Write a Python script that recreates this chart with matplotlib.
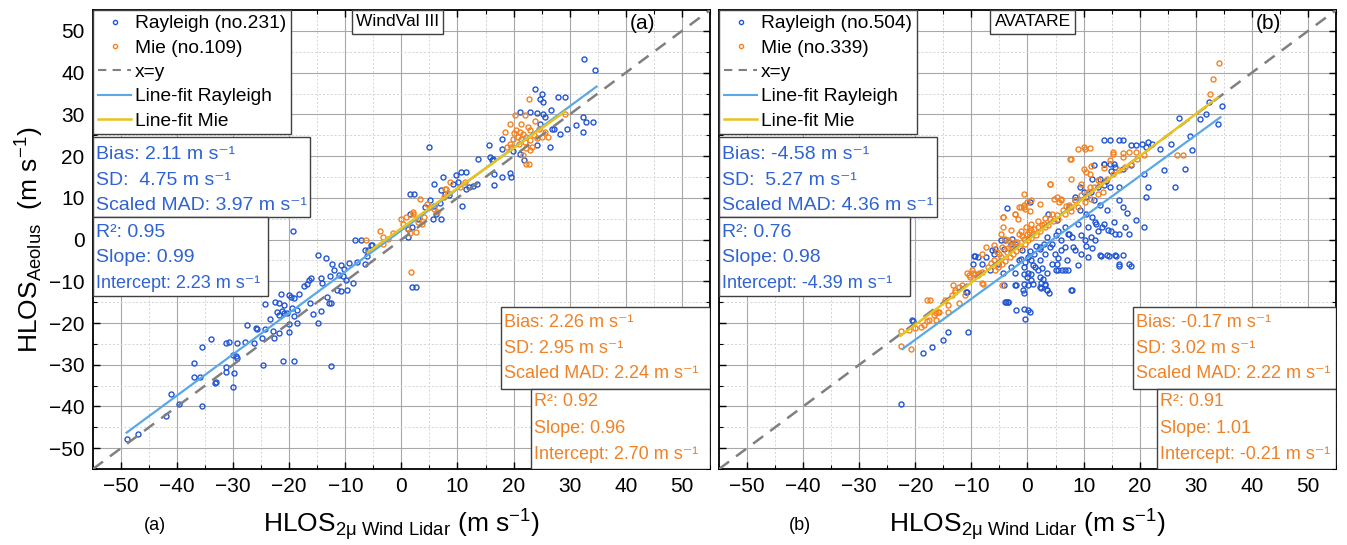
import matplotlib
matplotlib.use('Agg')
import matplotlib.pyplot as plt
import numpy as np
from matplotlib import font_manager
from matplotlib.lines import Line2D
from matplotlib.patches import Rectangle
from matplotlib.ticker import MultipleLocator

plt.rcParams['font.family'] = ['Liberation Sans', 'DejaVu Sans']
plt.rcParams['mathtext.fontset'] = 'custom'
plt.rcParams['mathtext.rm'] = 'Liberation Sans'
plt.rcParams['mathtext.it'] = 'Liberation Sans:italic'
plt.rcParams['mathtext.bf'] = 'Liberation Sans:bold'

# ---- panel (a) WindVal III : Rayleigh points (lidar, aeolus)
ray_a = [(-48.9,-47.8), (-47.0,-46.7), (-41.1,-37.1), (-42.0,-42.2), (-39.6,-39.5), (-35.5,-39.8), (-33.2,-34.3), (-30.0,-35.4),
         (-36.9,-29.7), (-36.9,-32.9), (-36.0,-32.9), (-33.0,-34.1), (-31.2,-30.5), (-31.3,-31.7), (-29.8,-32.0),
         (-30.0,-27.7), (-29.5,-28.0), (-29.3,-28.5), (-24.7,-30.0), (-21.1,-29.2), (-19.2,-29.2), (-12.5,-30.4),
         (-26.2,-24.7), (-27.9,-24.5), (-29.4,-24.9), (-30.7,-24.5), (-31.2,-24.9), (-34.0,-23.9), (-35.5,-25.7),
         (-27.6,-20.5), (-25.9,-21.1), (-25.7,-21.4), (-24.3,-21.5), (-22.9,-21.8), (-22.7,-23.7), (-24.9,-23.7), (-21.9,-22.5), (-20.1,-22.1),
         (-23.4,-19.1), (-20.1,-20.2), (-18.6,-20.1),
         (-22.2,-17.3), (-21.3,-17.0), (-21.9,-18.1), (-21.0,-17.7), (-20.4,-17.5), (-19.5,-16.5), (-18.6,-16.9), (-19.2,-18.3),
         (-14.4,-17.0), (-15.7,-17.8), (-14.8,-20.1),
         (-22.5,-14.9), (-21.9,-15.1), (-21.0,-15.7), (-24.4,-15.4), (-16.3,-15.3), (-13.2,-13.8), (-12.9,-15.3), (-12.5,-15.3),
         (-21.4,-13.0), (-20.1,-13.3), (-19.7,-13.7), (-19.2,-14.1), (-18.3,-13.0),
         (-11.4,-12.2), (-10.7,-12.4), (-9.7,-12.2), (-8.6,-10.4),
         (-16.2,-9.2), (-16.5,-9.8), (-16.9,-10.6), (-17.4,-11.2), (-14.3,-9.2), (-14.1,-10.4), (-12.8,-8.7),
         (-12.0,-7.2), (-11.1,-8.4), (-10.4,-8.8), (-9.9,-9.6),
         (-12.3,-5.9), (-10.7,-6.2), (-10.2,-7.1), (-9.3,-5.5), (-8.0,-5.3), (-6.5,-5.9),
         (-14.9,-3.6), (-13.4,-4.4), (-6.2,-4.0), (-5.2,-1.2), (-5.9,-2.4),
         (-8.3,-0.2), (-7.2,-0.2), (-19.4,2.0), (1.8,-11.4), (2.6,-11.4),
         (-6.5,-2.4), (-5.4,-1.4),
         (1.1,0.6), (1.5,6.2), (3.0,5.0), (1.8,3.0), (1.2,2.6), (5.7,5.0), (6.1,6.2), (7.1,5.0),
         (5.1,9.4), (4.2,7.8), (6.8,8.8), (5.8,8.0), (10.8,8.0),
         (7.1,11.8), (7.7,11.0), (8.5,10.6), (1.5,10.9), (2.2,10.9),
         (12.1,12.6), (12.7,12.9), (13.4,13.3), (11.6,12.2),
         (9.7,15.4), (10.7,16.2), (11.6,16.2), (10.1,13.8), (9.2,13.4), (7.4,14.9), (5.8,13.4),
         (16.5,15.8), (18.0,15.0), (19.3,16.0), (19.6,15.0), (16.5,13.2),
         (13.7,19.4), (15.8,19.8), (16.3,19.4), (16.1,19.0),
         (19.9,21.2), (21.1,20.6), (21.9,19.0),
         (18.0,24.1), (15.7,22.6), (17.9,21.7), (4.9,22.1),
         (24.2,22.6), (26.5,22.1),
         (26.8,26.6), (27.2,26.6), (28.3,25.4), (29.5,26.6), (31.1,27.4), (32.3,29.4), (33.0,28.2), (34.2,28.2), (32.3,25.7),
         (21.1,30.6), (22.9,30.6), (24.1,30.4), (25.3,30.2), (26.6,31.0), (25.6,29.3), (24.7,27.6),
         (23.9,36.0), (25.1,35.0), (25.3,33.0), (24.7,33.8), (27.9,34.2), (29.2,34.2),
         (32.6,43.4), (34.6,40.6)]

mie_a = [(1.7,-7.8),
         (22.7,33.6), (20.2,29.8), (22.0,29.8), (21.4,27.7), (19.3,27.7),
         (20.5,26.2), (21.1,25.8), (21.7,25.4), (20.8,24.6), (19.9,24.2), (21.4,24.0), (22.3,24.6), (22.9,26.2),
         (23.6,25.0), (24.1,24.4), (25.0,24.6), (26.2,24.6), (25.6,25.8), (23.3,22.2), (22.3,22.0), (22.9,21.4),
         (21.7,20.2), (22.3,18.2), (22.8,18.1), (19.6,22.1), (18.8,22.1), (29.2,30.1), (19.3,23.0),
         (21.0,23.0), (22.0,23.5), (23.0,23.8), (20.0,25.5), (24.5,26.5), (22.5,27.0), (18.5,25.8), (23.8,28.5),
         (3.3,9.8), (4.5,8.6), (5.1,7.8), (5.8,7.4), (6.3,6.6), (8.0,12.2), (8.3,11.2), (7.6,10.2),
         (-0.1,5.0), (0.2,3.8), (0.9,5.4), (2.1,6.2), (3.0,4.2), (2.6,1.8), (3.6,3.8), (1.5,1.6), (2.0,6.6),
         (1.0,2.8), (4.0,5.5), (-1.5,1.5),
         (-3.8,2.0), (-3.3,0.6), (-6.4,-0.2), (-3.3,-1.0), (-2.4,0.2),
         (8.6,13.8), (7.7,12.2), (10.4,12.6), (11.3,13.8)]

# ---- panel (b) AVATARE
ray_b = [(-18.6,-27.1), (-17.1,-25.7), (-15.1,-24.1), (-14.2,-22.2), (-10.6,-22.1), (-20.4,-19.5), (-10.9,-12.5), (-22.6,-39.4),
         (-3.9,-14.9), (-3.5,-14.9), (-2.0,-16.9), (-0.6,-16.7), (0.1,-16.9), (-0.4,-19.1),
         (-4.2,-10.9), (-2.0,-10.9), (-0.6,-10.7), (0.1,-10.9), (0.9,-10.7), (2.4,-10.5), (3.1,-10.9), (3.5,-12.1),
         (3.8,-12.9), (2.4,-11.7), (7.9,-12.1), (5.0,-7.3), (6.1,-7.3), (7.2,-7.3), (16.4,-6.3), (18.4,-6.3),
         (-0.6,-12.9), (-0.6,-8.3), (0.1,-8.1),
         (-3.7,7.5), (0.4,8.9), (-6.4,-2.6), (-5.8,-2.2), (-9.3,-4.0), (-9.6,-4.0), (-4.0,-0.2), (-2.8,0.2), (-2.2,-1.0),
         (-1.1,-4.6), (-0.5,-5.4), (0.1,-4.2), (0.7,-5.0), (1.3,-6.6), (1.9,-7.4), (0.7,-8.2), (2.2,-9.0), (2.8,-9.4), (3.1,-10.6),
         (-4.0,-14.9), (-3.4,-14.9), (0.4,-17.3), (-2.2,-11.0), (-0.8,-12.1), (2.2,-11.4), (3.4,-12.1),
         (5.4,-7.4), (6.6,-7.4), (7.8,-12.1), (13.1,-4.0), (14.6,-4.0), (15.8,-4.0),
         (4.9,-3.4), (6.6,-1.8), (8.4,-2.6), (10.2,-0.2), (11.4,0.6), (12.5,2.1), (13.7,3.7), (14.9,2.1), (15.5,4.1),
         (3.1,-3.4), (4.0,-1.8), (2.2,-1.8), (5.4,2.1), (7.2,1.3), (9.0,3.7), (10.8,2.9), (12.0,4.1),
         (8.4,10.1), (11.4,11.3), (12.5,12.5), (14.0,14.0), (15.5,18.0), (13.7,18.0), (14.9,16.4),
         (-10.8,-12.5), (-20.6,-19.3),
         (32.4,33.0), (34.7,32.0), (33.9,27.8), (27.0,29.2), (30.7,29.0), (31.9,30.2), (28.9,24.8), (29.4,21.4),
         (28.1,17.0), (26.3,12.6), (25.6,23.0), (23.6,21.8), (22.2,23.0), (21.1,22.2),
         (13.7,23.8), (14.8,23.8), (16.3,23.8), (17.0,23.8), (18.4,22.6), (19.3,22.6), (20.4,23.0), (21.5,23.4),
         (13.7,18.2), (14.8,18.2), (15.6,17.4), (17.0,17.0), (18.5,17.8), (11.9,17.8),
         (11.5,14.6), (13.0,14.6), (13.7,13.0), (14.8,12.6), (16.3,12.6),
         (9.3,12.6), (10.0,11.4), (10.4,10.2), (11.9,9.4), (13.0,8.2), (14.1,7.0),
         (16.3,9.4), (17.0,7.8), (17.8,6.3), (19.3,4.6), (20.7,3.0),
         (21.5,12.6), (21.1,10.2), (20.7,15.8), (24.4,16.6),
         (7.4,7.8), (8.5,9.4), (9.3,7.0), (10.4,6.2), (11.5,5.4), (12.2,3.8), (13.3,3.0), (14.4,2.2), (15.6,1.4),
         (16.3,1.4), (17.4,3.0), (18.1,1.4),
         (3.7,6.2), (5.2,4.6), (6.7,3.0), (7.4,1.4), (5.9,-0.2), (4.4,-1.0),
         (8.1,-1.8), (9.6,-3.4), (10.7,-4.2), (13.0,-3.8), (14.1,-3.8), (15.6,-3.8), (17.0,-3.8),
         (16.3,-5.8), (18.1,-5.8),
         (3.0,-1.0), (2.2,-2.2), (1.1,-3.4), (2.2,-4.9), (2.6,-6.9), (4.4,-5.8), (5.2,-5.8),
         (-1.5,-4.9), (-0.7,-6.5), (-2.2,-8.1), (0.0,-8.9), (0.7,-9.7),
         (-3.0,-1.0), (-4.1,-2.2), (-4.8,-0.2), (-5.9,-3.4), (-7.4,-4.2), (-8.1,-5.8), (-6.7,-7.4), (-5.2,-5.8),
         (-3.0,-6.5), (-4.4,-8.1), (-9.8,-5.8), (-8.9,-4.2),
         (1.5,-1.5), (3.5,0.5), (5.0,1.0), (6.0,-2.5), (8.0,0.5), (9.5,1.0), (10.5,-1.5), (12.0,0.0),
         (0.5,-2.8), (-1.0,-2.5), (1.0,-6.0), (3.5,-8.0), (5.5,-4.5), (7.0,-5.0), (9.0,-6.0), (11.5,-2.0)]

mie_b = [(-22.5,-25.5), (-20.7,-26.3), (-22.6,-21.9), (-21.2,-21.7), (-20.1,-21.3), (-19.0,-20.9), (-17.9,-19.5),
         (-16.4,-19.3), (-16.4,-17.7), (-15.7,-17.3), (-14.2,-15.7), (-13.5,-13.3), (-12.9,-12.5), (-11.6,-10.9),
         (-10.5,-8.5), (-9.8,-8.1), (-8.7,-7.9), (-8.1,-10.5),
         (-9.3,-8.2), (-8.8,-8.2), (-10.2,-9.0), (-12.3,-11.3), (-12.9,-12.1), (-14.7,-14.5), (-15.9,-17.3),
         (-16.7,-18.1), (-17.6,-19.3), (-18.5,-20.5), (-17.3,-14.4), (-17.9,-14.5), (-14.1,-17.3), (-12.3,-15.3),
         (-11.1,-13.3), (-7.9,-10.6), (-13.2,-11.0), (-4.6,-11.0),
         (-5.8,-7.4), (-5.2,-6.6), (-4.6,-5.8), (-4.0,-5.2), (-3.1,-4.2), (-2.5,-3.4), (-2.0,-2.8), (-1.4,-2.0),
         (-0.5,-1.0), (0.1,-0.2), (0.7,0.4), (1.6,1.2), (2.2,2.0), (3.1,2.9), (3.7,3.6), (4.6,4.4), (5.4,4.9),
         (6.6,6.1), (7.8,6.9), (9.0,7.9), (10.2,8.9), (11.4,9.7), (12.5,10.9), (13.4,11.3),
         (-3.4,-0.2), (-2.8,-1.4), (-4.6,-1.8), (-5.5,-3.0), (-4.0,0.2), (-1.1,2.1), (-0.2,2.9), (0.7,3.7),
         (1.9,4.5), (3.1,5.2), (4.3,6.1),
         (9.0,21.6), (10.2,21.6), (7.6,19.2), (15.2,20.6), (11.4,17.6), (13.7,17.2), (4.0,13.3), (-0.7,11.0),
         (4.7,9.7), (6.0,9.7), (5.7,9.0), (6.9,8.1), (7.8,7.7), (-1.1,7.7), (-0.5,7.3), (0.4,6.9), (-4.3,5.3),
         (-2.2,6.1), (-1.7,4.9),
         (34.1,42.4), (33.0,38.4), (32.6,34.8), (26.7,20.2), (27.8,20.2), (10.0,22.2), (11.1,22.0), (7.8,19.4),
         (10.0,17.0), (10.4,16.2), (11.1,12.6), (12.6,14.2), (4.1,13.4), (7.8,14.6), (0.0,9.0), (-0.7,8.2),
         (-1.5,7.8), (-4.4,5.4), (-2.2,6.2), (15.2,21.0), (17.0,20.8), (19.3,21.0),
         (-8.1,-7.7), (-7.0,-6.5), (-5.9,-4.9), (-4.8,-4.2), (-3.7,-2.9), (-3.0,-1.8), (-1.9,-0.6), (-0.7,0.2),
         (0.0,1.4), (0.7,2.2), (1.9,3.0), (3.0,3.8), (4.1,5.0), (5.2,5.8), (6.3,7.0), (7.4,8.2), (8.5,9.4),
         (9.6,10.6), (10.7,11.4), (11.9,12.6), (13.0,13.4), (14.1,14.6), (15.2,15.8), (16.3,16.6), (17.4,17.4),
         (18.5,18.2), (19.6,19.4), (20.7,20.2),
         (-4.4,3.0), (-4.8,1.4), (-3.0,2.2), (-1.5,1.4), (-0.7,7.8), (0.7,9.4), (2.2,8.6), (5.2,10.2), (5.9,9.4),
         (9.6,13.4), (11.1,15.8), (14.8,19.0), (17.0,19.8), (18.1,21.0),
         (-7.4,-1.8), (-5.9,-1.4), (-8.1,-3.4), (-10.7,-8.1), (-9.9,-7.3), (-8.9,-8.5),
         (-6.5,-5.5), (-5.0,-3.5), (-3.5,-2.0), (-2.2,-0.5), (-1.0,0.8), (0.3,1.8), (1.2,2.6), (2.5,3.4)]

# fit lines: slope, intercept, x range
fit_ray_a = (0.99, 2.23, -49, 34.8)
fit_mie_a = (0.96, 2.70, -6, 29.2)
fit_ray_b = (0.98, -4.39, -22.3, 34.4)
fit_mie_b = (1.01, -0.21, -22.6, 33.9)

n_ray = [231, 504]
n_mie = [109, 339]
campaign = ['WindVal III', 'AVATARE']
panel = ['(a)', '(b)']

stats_ray = [['Bias: 2.11', 'SD:  4.75', 'Scaled MAD: 3.97'], ['Bias: -4.58', 'SD:  5.27', 'Scaled MAD: 4.36']]
fit_txt_ray = [['R²: 0.95', 'Slope: 0.99', 'Intercept: 2.23'],
               ['R²: 0.76', 'Slope: 0.98', 'Intercept: -4.39']]
stats_mie = [['Bias: 2.26', 'SD: 2.95', 'Scaled MAD: 2.24'], ['Bias: -0.17', 'SD: 3.02', 'Scaled MAD: 2.22']]
fit_txt_mie = [['R²: 0.92', 'Slope: 0.96', 'Intercept: 2.70'],
               ['R²: 0.91', 'Slope: 1.01', 'Intercept: -0.21']]

c_ray = '#2256d6'
c_mie = '#f58220'
c_rayfit = '#5aa8e6'
c_miefit = '#e8c21e'
c_txt_ray = '#2f62d3'
c_txt_mie = '#ef8227'
unit = ' m s⁻¹'

have_narrow = 'Liberation Sans Narrow' in {f.name for f in font_manager.fontManager.ttflist}
narrow = ['Liberation Sans Narrow', 'DejaVu Sans'] if have_narrow else ['Liberation Sans', 'DejaVu Sans']
nfs = 14.5 if have_narrow else 13.0

fig = plt.figure(figsize=(13.47, 5.45), dpi=100)
axes = [fig.add_axes([0.069, 0.1394, 0.458, 0.842]),
        fig.add_axes([0.5338, 0.1394, 0.458, 0.842])]

# box geometry (data coords)
box1_right = [-16.3, -16.1]
box2_right = [-23.8, -21.0]
obox1_left = [17.7, 18.8]
obox2_left = [23.1, 23.1]


def stat_box(ax, x0, x1, y0, y1, lines, color, tx, tys, fs, fam):
    ax.add_patch(Rectangle((x0, y1), x1 - x0, y0 - y1, facecolor='white', edgecolor='#404040',
                           lw=1.0, zorder=6))
    for s, ty in zip(lines, tys):
        ax.text(tx, ty, s, color=color, fontsize=fs, family=fam, va='center', ha='left', zorder=7)


for i, ax in enumerate(axes):
    ray = np.array([ray_a, ray_b][i])
    mie = np.array([mie_a, mie_b][i])
    fr = [fit_ray_a, fit_ray_b][i]
    fm = [fit_mie_a, fit_mie_b][i]

    ax.set_xlim(-55, 55)
    ax.set_ylim(-55, 55)
    ax.xaxis.set_major_locator(MultipleLocator(10))
    ax.yaxis.set_major_locator(MultipleLocator(10))
    ax.xaxis.set_minor_locator(MultipleLocator(5))
    ax.yaxis.set_minor_locator(MultipleLocator(5))
    ax.grid(which='major', color='#a8a8a8', lw=0.8)
    ax.grid(which='minor', color='#d4d4d4', lw=0.7, ls=(0, (2, 2)))
    ax.set_axisbelow(True)
    ax.tick_params(which='both', direction='in', top=True, right=True, labelsize=15)
    ax.tick_params(which='major', length=5, width=1, pad=6)
    ax.tick_params(which='minor', length=3, width=0.8)
    for sp in ax.spines.values():
        sp.set_linewidth(1.3)

    ax.plot(ray[:, 0], ray[:, 1], 'o', mfc='none', mec=c_ray, ms=3.6, mew=1.0, zorder=3)
    ax.plot(mie[:, 0], mie[:, 1], 'o', mfc='none', mec=c_mie, ms=3.6, mew=1.0, zorder=3)

    ax.plot([-55, 55], [-55, 55], color='#808080', ls=(0, (5, 3.5)), lw=1.8, zorder=4)
    xr = np.array([fr[2], fr[3]])
    ax.plot(xr, fr[0] * xr + fr[1], color=c_rayfit, lw=1.6, zorder=4)
    xm = np.array([fm[2], fm[3]])
    ax.plot(xm, fm[0] * xm + fm[1], color=c_miefit, lw=1.8, zorder=5)

    handles = [Line2D([], [], ls='none', marker='o', mfc='none', mec=c_ray, ms=3.0, mew=1.0),
               Line2D([], [], ls='none', marker='o', mfc='none', mec=c_mie, ms=3.0, mew=1.0),
               Line2D([], [], color='#808080', ls=(0, (4, 3)), lw=1.5),
               Line2D([], [], color=c_rayfit, lw=1.5),
               Line2D([], [], color=c_miefit, lw=1.8)]
    labels = ['Rayleigh (no.%d)' % n_ray[i], 'Mie (no.%d)' % n_mie[i], 'x=y', 'Line-fit Rayleigh', 'Line-fit Mie']
    leg = ax.legend(handles, labels, loc='upper left', bbox_to_anchor=(0, 1), borderaxespad=0,
                    fontsize=13.8, frameon=True, fancybox=False, edgecolor='#404040', framealpha=1,
                    handlelength=1.75, handletextpad=0.2, labelspacing=0.36, borderpad=0.25)
    leg.get_frame().set_linewidth(1.0)
    leg.set_zorder(8)

    regular = ['Liberation Sans', 'DejaVu Sans']
    stat_box(ax, -55, box1_right[i], 24.6, 5.4, [s + unit for s in stats_ray[i]], c_txt_ray,
             -54.4, [20.5, 14.2, 8.2], 14, regular)
    stat_box(ax, -55, box2_right[i], 5.4, -13.5, fit_txt_ray[i][:2], c_txt_ray,
             -54.4, [1.8, -4.4], 14, regular)
    ax.text(-54.4, -10.6, fit_txt_ray[i][2] + unit, color=c_txt_ray, fontsize=nfs, family=narrow,
            va='center', ha='left', zorder=7)
    stat_box(ax, obox1_left[i], 55, -16.2, -35.9, [s + unit for s in stats_mie[i]], c_txt_mie,
             obox1_left[i] + 0.6, [-19.8, -26.0, -32.0], nfs, narrow)
    stat_box(ax, obox2_left[i], 55, -35.9, -55,
             fit_txt_mie[i][:2] + [fit_txt_mie[i][2] + unit], c_txt_mie, obox2_left[i] + 0.6,
             [-38.8, -45.2, -51.5], nfs, narrow)

    cx = [-0.7, 0.9][i]
    ax.text(cx, 52.2, campaign[i], fontsize=12.5, ha='center', va='center', zorder=7,
            bbox=dict(boxstyle='square,pad=0.25', fc='white', ec='#404040', lw=1.0))
    ax.text(43.0, 51.8, panel[i], fontsize=15, ha='center', va='center', zorder=7)

    ax.set_xlabel('HLOS$_{\\mathregular{2μ\\ Wind\\ Lidar}}$ (m s$^{\\mathregular{-1}}$)', fontsize=19, labelpad=8)
    fig.text([0.115, 0.594][i], 0.035, panel[i], fontsize=13, ha='center', va='center')

axes[0].set_ylabel('HLOS$_{\\mathregular{Aeolus}}$  (m s$^{\\mathregular{-1}}$)', fontsize=19, labelpad=2)
axes[1].tick_params(labelleft=False)

fig.savefig('out.png', dpi=100)
